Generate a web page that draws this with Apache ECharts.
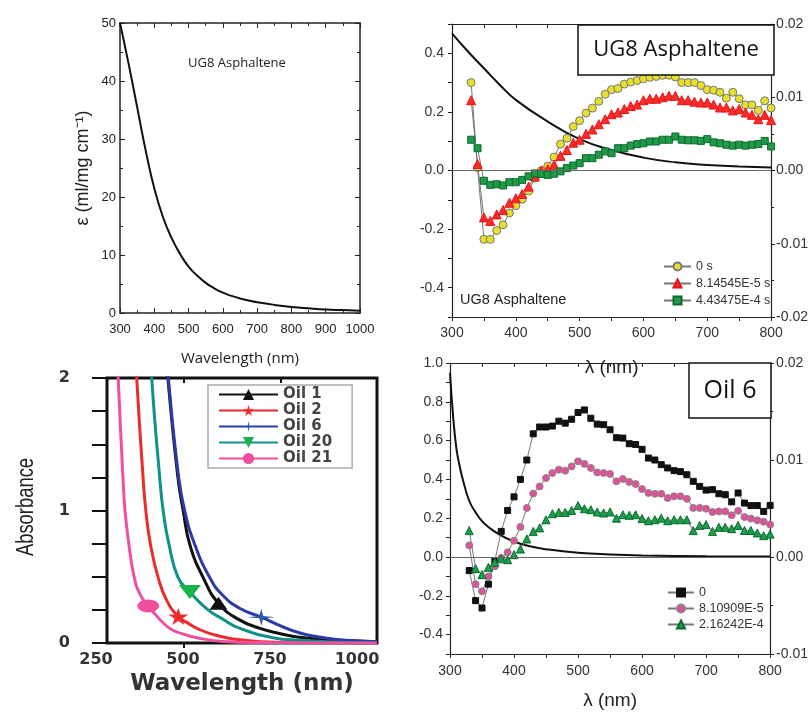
<!DOCTYPE html>
<html>
<head>
<meta charset="utf-8">
<script src="https://cdn.jsdelivr.net/npm/echarts@6/dist/echarts.min.js"></script>
<style>
  html, body { margin: 0; padding: 0; background: #fff; }
  #chart { width: 811px; height: 713px; }
</style>
</head>
<body>
<div id="chart"></div>
<script>
// top left: extinction coefficient of UG8 asphaltene
var epsWl = [300, 325, 350, 375, 400, 425, 450, 475, 500, 525, 550, 575, 600, 625, 650, 675, 700, 750, 800, 850, 900, 950, 1000];
var epsVal = [50, 43.0, 35.5, 28.0, 21.5, 16.6, 13.0, 10.2, 8.0, 6.45, 5.2, 4.25, 3.5, 2.95, 2.5, 2.15, 1.85, 1.4, 1.05, 0.8, 0.6, 0.5, 0.4];

// transient spectra wavelengths (both right panels)
var lambda = [330, 340, 350, 360, 370, 380, 390, 400, 410, 420, 430, 440, 450, 460, 470, 480, 490, 500,
  510, 520, 530, 540, 550, 560, 570, 580, 590, 600, 610, 620, 630, 640, 650, 660, 670, 680, 690, 700,
  710, 720, 730, 740, 750, 760, 770, 780, 790, 800];

// top right: UG8 asphaltene
var ugT0 = [0.30, 0.01, -0.235, -0.235, -0.205, -0.185, -0.145, -0.12, -0.098, -0.07, -0.026, 0.0,
  0.015, 0.046, 0.09, 0.11, 0.15, 0.17, 0.196, 0.213, 0.236, 0.26, 0.276, 0.28, 0.295, 0.302, 0.307, 0.313,
  0.318, 0.321, 0.325, 0.325, 0.319, 0.30, 0.30, 0.30, 0.29, 0.276, 0.274, 0.267, 0.247, 0.267, 0.245,
  0.224, 0.224, 0.205, 0.238, 0.213];
var ugT1 = [0.24, 0.022, -0.16, -0.172, -0.15, -0.135, -0.11, -0.095, -0.08, -0.055, -0.02, 0.0,
  0.005, 0.02, 0.05, 0.07, 0.095, 0.105, 0.125, 0.14, 0.158, 0.175, 0.192, 0.198, 0.21, 0.22, 0.225, 0.24,
  0.245, 0.245, 0.25, 0.255, 0.255, 0.24, 0.24, 0.235, 0.232, 0.232, 0.225, 0.215, 0.215, 0.205, 0.21,
  0.198, 0.19, 0.175, 0.19, 0.172];
var ugT2 = [0.105, 0.076, -0.035, -0.049, -0.047, -0.051, -0.04, -0.04, -0.032, -0.02, -0.01, -0.012,
  -0.015, -0.011, -0.003, 0.008, 0.017, 0.025, 0.042, 0.042, 0.054, 0.065, 0.059, 0.076, 0.076, 0.085,
  0.09, 0.093, 0.099, 0.099, 0.105, 0.105, 0.116, 0.105, 0.103, 0.103, 0.101, 0.107, 0.096, 0.093, 0.088,
  0.085, 0.088, 0.085, 0.088, 0.09, 0.101, 0.082];
var ugAbsWl = [300, 325, 350, 375, 400, 450, 500, 550, 600, 650, 700, 750, 800];
var ugAbs = [0.468, 0.406, 0.349, 0.292, 0.241, 0.167, 0.107, 0.07, 0.044, 0.028, 0.019, 0.014, 0.010];

// bottom right: Oil 6
var oilT0 = [-0.07, -0.225, -0.263, -0.14, -0.02, 0.132, 0.24, 0.31, 0.40, 0.50, 0.635, 0.67,
  0.67, 0.675, 0.70, 0.69, 0.71, 0.745, 0.758, 0.715, 0.685, 0.682, 0.656, 0.615, 0.613, 0.584, 0.58,
  0.555, 0.51, 0.50, 0.476, 0.459, 0.445, 0.44, 0.424, 0.39, 0.364, 0.345, 0.347, 0.326, 0.321, 0.284,
  0.33, 0.278, 0.265, 0.265, 0.235, 0.266];
var oilT1 = [0.06, -0.14, -0.177, -0.10, -0.048, -0.005, 0.024, 0.084, 0.155, 0.253, 0.327, 0.364,
  0.407, 0.433, 0.45, 0.445, 0.467, 0.493, 0.48, 0.459, 0.436, 0.433, 0.428, 0.39, 0.402, 0.387, 0.376,
  0.35, 0.33, 0.326, 0.326, 0.304, 0.313, 0.313, 0.30, 0.253, 0.253, 0.249, 0.232, 0.235, 0.235, 0.215,
  0.238, 0.206, 0.198, 0.189, 0.182, 0.167];
var oilT2 = [0.136, -0.06, -0.091, -0.053, -0.027, -0.009, -0.014, 0.012, 0.041, 0.093, 0.132, 0.15,
  0.192, 0.223, 0.23, 0.23, 0.24, 0.265, 0.249, 0.244, 0.232, 0.227, 0.232, 0.2, 0.218, 0.215, 0.218,
  0.198, 0.187, 0.192, 0.2, 0.187, 0.192, 0.192, 0.192, 0.136, 0.163, 0.167, 0.132, 0.153, 0.153, 0.146,
  0.163, 0.137, 0.137, 0.124, 0.11, 0.118];
var oilAbsWl = [300, 305, 310, 315, 320, 330, 340, 350, 360, 375, 400, 425, 450, 500, 550, 600, 700, 800];
var oilAbs = [0.95, 0.72, 0.56, 0.47, 0.40, 0.29, 0.23, 0.185, 0.155, 0.12, 0.08, 0.055, 0.04, 0.022, 0.013, 0.008, 0.004, 0.002];

// bottom left: crude oil absorbance
var oil1Wl = [446, 458, 483, 498, 515, 550, 589, 640, 697, 750, 793, 850, 900, 1000];
var oil1Abs = [2.5, 2.0, 1.27, 0.99, 0.74, 0.49, 0.30, 0.18, 0.11, 0.07, 0.045, 0.03, 0.02, 0.01];
var oil2Wl = [365, 377, 393, 401, 413, 433, 455, 485, 510, 541, 580, 627, 700, 800, 1000];
var oil2Abs = [2.65, 2.0, 1.27, 0.99, 0.74, 0.49, 0.32, 0.2, 0.15, 0.1, 0.06, 0.03, 0.01, 0.003, 0.0];
var oil6Wl = [445, 459, 485, 502, 528, 567, 600, 645, 700, 750, 800, 850, 900, 1000];
var oil6Abs = [2.5, 2.0, 1.27, 0.99, 0.74, 0.49, 0.36, 0.26, 0.195, 0.13, 0.075, 0.045, 0.025, 0.01];
var oil20Wl = [402, 416, 436, 446, 461, 485, 515, 558, 600, 645, 730, 800, 900, 1000];
var oil20Abs = [2.8, 2.0, 1.27, 0.99, 0.74, 0.49, 0.385, 0.26, 0.18, 0.11, 0.04, 0.02, 0.005, 0.0];
var oil21Wl = [318, 329, 341, 347, 357, 371, 387, 407, 430, 463, 500, 533, 600, 700, 850, 1000];
var oil21Abs = [2.7, 2.0, 1.27, 0.99, 0.74, 0.49, 0.36, 0.28, 0.2, 0.11, 0.065, 0.04, 0.012, 0.003, 0.0, 0.0];
var oilNames = ['Oil 1', 'Oil 2', 'Oil 6', 'Oil 20', 'Oil 21'];
var oilMarkWl = [589, 485, 700, 515, 407];

var starPath = 'path://M50,0 L61,35 L98,35 L68,57 L79,91 L50,70 L21,91 L32,57 L2,35 L39,35 Z';
var sparkPath = 'path://M50,0 L57,43 L100,50 L57,57 L50,100 L43,57 L0,50 L43,43 Z';

function pairs(xs, ys) {
  return xs.map(function (x, i) { return [x, ys[i]]; });
}
function evenTenth(v) {
  var n = Math.round(v * 10);
  return n % 2 === 0 ? (n / 10).toFixed(1) : '';
}
function hundreds(v) {
  return Math.round(v) % 100 === 0 ? String(Math.round(v)) : '';
}
function plain(v) {
  return String(Math.round(v));
}

var font = 'Liberation Sans';
var ink = '#222';
var lbl = { color: '#333', fontFamily: font, fontSize: 14 };
var noSplit = { show: false };
function axLine(w) {
  return { show: true, onZero: false, lineStyle: { color: ink, width: w || 1.2 } };
}
function ticks(inside, len) {
  return { show: true, inside: inside, length: len, lineStyle: { color: ink, width: 1 } };
}
function minor(len) {
  return { show: true, splitNumber: 2, length: len, lineStyle: { color: ink, width: 1 } };
}

// line + marker series for the transient panels
function spectrum(name, vals, symbol, size, fill, border, yIdx) {
  return {
    name: name, type: 'line', xAxisIndex: yIdx === 2 ? 2 : 7, yAxisIndex: yIdx,
    data: pairs(lambda, vals), symbol: symbol, symbolSize: size, showAllSymbol: true,
    lineStyle: { color: '#777', width: 1 },
    itemStyle: { color: fill, borderColor: border, borderWidth: 1 },
    emphasis: { disabled: true }, z: 3
  };
}
function oilCurve(i, wl, abs, color, markColor, symbol, size, rotate) {
  var mark = oilMarkWl[i];
  return {
    name: oilNames[i], type: 'line', xAxisIndex: 4, yAxisIndex: 4,
    data: pairs(wl, abs), smooth: 0.5,
    symbol: symbol, symbolRotate: rotate || 0, showAllSymbol: true,
    symbolSize: function (v) { return v[0] === mark ? size : 0; },
    lineStyle: { color: color, width: 3 },
    itemStyle: { color: markColor },
    emphasis: { disabled: true }
  };
}

var chart = echarts.init(document.getElementById('chart'), null, { renderer: 'canvas' });

var option = {
  animation: false,
  backgroundColor: '#fff',
  grid: [
    { left: 120, right: 451, top: 23, bottom: 400 },
    { left: 452, right: 38, top: 24, bottom: 396 },
    { left: 107, right: 434, top: 378, bottom: 70, show: true, borderColor: '#111', borderWidth: 3 },
    { left: 96, right: 454, top: 378, bottom: 70 },
    { left: 450, right: 40, top: 363, bottom: 59 }
  ],
  xAxis: [
    { gridIndex: 0, type: 'value', min: 300, max: 1000, interval: 100,
      axisLine: axLine(1.5), axisTick: ticks(true, 5), minorTick: minor(3), splitLine: noSplit,
      axisLabel: { margin: 10, color: ink, fontFamily: font, fontSize: 13, formatter: plain },
      name: 'Wavelength (nm)', nameLocation: 'middle', nameGap: 38,
      nameTextStyle: { fontFamily: 'Open Sans', fontSize: 15, color: ink } },
    { gridIndex: 0, type: 'value', position: 'top', min: 300, max: 1000, interval: 100,
      axisLine: axLine(1.5), axisTick: ticks(true, 5), minorTick: minor(3), splitLine: noSplit,
      axisLabel: { show: false } },
    { gridIndex: 1, type: 'value', min: 300, max: 800, interval: 50,
      axisLine: axLine(), axisTick: ticks(false, 4), splitLine: noSplit,
      axisLabel: Object.assign({ margin: 9, formatter: hundreds }, lbl),
      name: 'λ (nm)', nameLocation: 'middle', nameGap: 41,
      nameTextStyle: { fontFamily: font, fontSize: 19, color: ink } },
    { gridIndex: 1, type: 'value', position: 'top', min: 300, max: 800, interval: 50,
      axisLine: axLine(), axisTick: ticks(true, 4), splitLine: noSplit, axisLabel: { show: false } },
    { gridIndex: 2, type: 'value', min: 300, max: 1000,
      axisLine: { show: false, onZero: false },
      axisTick: { show: true, customValues: [500], length: 5, lineStyle: { color: '#111', width: 2 } },
      splitLine: noSplit, axisLabel: { show: false },
      name: 'Wavelength (nm)', nameLocation: 'middle', nameGap: 30,
      nameTextStyle: { fontFamily: 'DejaVu Sans', fontWeight: 'bold', fontSize: 23, color: '#333' } },
    { gridIndex: 2, type: 'value', position: 'top', min: 300, max: 1000,
      axisLine: { show: false, onZero: false },
      axisTick: { show: true, inside: true, customValues: [500, 750], length: 5, lineStyle: { color: '#111', width: 2 } },
      splitLine: noSplit, axisLabel: { show: false } },
    { gridIndex: 3, type: 'value', min: 250, max: 1000, interval: 250,
      axisLine: { show: false, onZero: false }, axisTick: { show: false }, splitLine: noSplit,
      axisLabel: { margin: 9, color: '#333', fontFamily: 'DejaVu Sans', fontWeight: 'bold', fontSize: 16, formatter: plain } },
    { gridIndex: 4, type: 'value', min: 300, max: 800, interval: 50,
      axisLine: axLine(), axisTick: ticks(false, 4), splitLine: noSplit,
      axisLabel: Object.assign({ margin: 10, formatter: hundreds }, lbl),
      name: 'λ (nm)', nameLocation: 'middle', nameGap: 37,
      nameTextStyle: { fontFamily: font, fontSize: 19, color: ink } },
    { gridIndex: 4, type: 'value', position: 'top', min: 300, max: 800, interval: 50,
      axisLine: axLine(), axisTick: ticks(true, 4), splitLine: noSplit, axisLabel: { show: false } }
  ],
  yAxis: [
    { gridIndex: 0, type: 'value', min: 0, max: 50, interval: 10,
      axisLine: axLine(1.5), axisTick: ticks(true, 5), minorTick: minor(3), splitLine: noSplit,
      axisLabel: { margin: 4, color: ink, fontFamily: font, fontSize: 13 },
      name: 'ε (ml/mg cm⁻¹)', nameLocation: 'middle', nameGap: 28,
      nameTextStyle: { fontFamily: font, fontSize: 18, color: ink } },
    { gridIndex: 0, type: 'value', position: 'right', min: 0, max: 50, interval: 10,
      axisLine: axLine(1.5), axisTick: ticks(true, 5), minorTick: minor(3), splitLine: noSplit,
      axisLabel: { show: false } },
    { gridIndex: 1, type: 'value', min: -0.5, max: 0.5, interval: 0.1,
      axisLine: axLine(), axisTick: ticks(false, 4), splitLine: noSplit,
      axisLabel: Object.assign({ margin: 8, formatter: evenTenth }, lbl) },
    { gridIndex: 1, type: 'value', position: 'right', min: -0.02, max: 0.02, interval: 0.01,
      axisLine: axLine(), axisTick: ticks(false, 4), minorTick: minor(3), splitLine: noSplit,
      axisLabel: Object.assign({ margin: 5, formatter: function (v) { return v.toFixed(2); } }, lbl) },
    { gridIndex: 2, type: 'value', min: 0, max: 2, interval: 0.25,
      axisLine: { show: false, onZero: false },
      axisTick: { show: true, length: 15, lineStyle: { color: '#111', width: 2 } },
      splitLine: noSplit,
      axisLabel: { margin: 37, color: '#333', fontFamily: 'DejaVu Sans', fontWeight: 'bold', fontSize: 16,
        formatter: function (v) { return Math.abs(v - Math.round(v)) < 1e-6 ? String(Math.round(v)) : ''; } } },
    { gridIndex: 3, type: 'value', show: false, min: 0, max: 1 },
    { gridIndex: 4, type: 'value', min: -0.5, max: 1.0, interval: 0.1,
      axisLine: axLine(), axisTick: ticks(false, 4), splitLine: noSplit,
      axisLabel: Object.assign({ margin: 7, formatter: evenTenth }, lbl) },
    { gridIndex: 4, type: 'value', position: 'right', min: -0.01, max: 0.02, interval: 0.01,
      axisLine: axLine(), axisTick: ticks(false, 4), minorTick: minor(3), splitLine: noSplit,
      axisLabel: Object.assign({ margin: 6, formatter: function (v) { return v.toFixed(2); } }, lbl) }
  ],
  legend: [
    { data: ['0 s', '8.14545E-5 s', '4.43475E-4 s'], orient: 'vertical', left: 663, top: 260,
      itemWidth: 27, itemHeight: 10, itemGap: 4, padding: 0, selectedMode: false,
      textStyle: { fontFamily: font, fontSize: 12.5, color: '#333' } },
    { data: oilNames, orient: 'vertical', left: 208, top: 385,
      itemWidth: 59, itemHeight: 14, itemGap: 1, padding: [2, 20, 2, 10], selectedMode: false,
      borderColor: '#aaa', borderWidth: 1.5, backgroundColor: '#fff',
      textStyle: { fontFamily: 'DejaVu Sans', fontWeight: 'bold', fontSize: 15, color: '#444', lineHeight: 14 } },
    { data: ['0', '8.10909E-5', '2.16242E-4'], orient: 'vertical', left: 667, top: 586,
      itemWidth: 26, itemHeight: 10, itemGap: 3, padding: 0, selectedMode: false,
      textStyle: { fontFamily: font, fontSize: 12.5, color: '#333' } }
  ],
  graphic: [
    { type: 'text', x: 237, y: 63, z: 50,
      style: { text: 'UG8 Asphaltene', fill: ink, fontFamily: 'Open Sans', fontSize: 13, align: 'center', verticalAlign: 'middle' } },
    { type: 'text', x: 460, y: 300, z: 50,
      style: { text: 'UG8 Asphaltene', fill: ink, fontFamily: font, fontSize: 14.5, align: 'left', verticalAlign: 'middle' } },
    { type: 'rect', z: 50, shape: { x: 578, y: 25, width: 196, height: 50 },
      style: { fill: '#fff', stroke: '#111', lineWidth: 1.5 } },
    { type: 'text', x: 676, y: 50, z: 51,
      style: { text: 'UG8 Asphaltene', fill: '#111', fontFamily: 'Open Sans', fontSize: 22, align: 'center', verticalAlign: 'middle' } },
    { type: 'rect', z: 50, shape: { x: 689, y: 363, width: 82, height: 55 },
      style: { fill: '#fff', stroke: '#111', lineWidth: 1.5 } },
    { type: 'text', x: 730, y: 391, z: 51,
      style: { text: 'Oil 6', fill: '#111', fontFamily: 'Open Sans', fontSize: 25, align: 'center', verticalAlign: 'middle' } },
    { type: 'text', x: 27, y: 507, z: 50, rotation: Math.PI / 2, scaleX: 0.8,
      style: { text: 'Absorbance', fill: '#222', fontFamily: font, fontSize: 23, align: 'center', verticalAlign: 'middle' } }
  ],
  series: [
    { name: 'eps', type: 'line', xAxisIndex: 0, yAxisIndex: 0, data: pairs(epsWl, epsVal),
      smooth: 0.5, symbol: 'none', lineStyle: { color: '#111', width: 2 } },

    { name: 'absUG8', type: 'line', xAxisIndex: 2, yAxisIndex: 2, data: pairs(ugAbsWl, ugAbs),
      smooth: 0.5, symbol: 'none', lineStyle: { color: '#111', width: 2 },
      markLine: { silent: true, symbol: 'none', label: { show: false },
        lineStyle: { color: '#666', type: 'solid', width: 1 }, data: [{ yAxis: 0 }] } },
    spectrum('0 s', ugT0, 'circle', 8, '#e6e02c', '#777', 2),
    spectrum('8.14545E-5 s', ugT1, 'triangle', 9, '#ff2a2a', '#e51616', 2),
    spectrum('4.43475E-4 s', ugT2, 'rect', 7, '#1e9a48', '#0d6a2d', 2),

    oilCurve(0, oil1Wl, oil1Abs, '#111', '#111', 'triangle', [18, 13]),
    oilCurve(1, oil2Wl, oil2Abs, '#ee2b2b', '#ee2b2b', starPath, [20, 17]),
    oilCurve(2, oil6Wl, oil6Abs, '#2a3aa6', '#2b5aa8', sparkPath, [28, 17]),
    oilCurve(3, oil20Wl, oil20Abs, '#0e9188', '#19b24b', 'triangle', [22, 14], 180),
    oilCurve(4, oil21Wl, oil21Abs, '#ef4f9e', '#ef4f9e', 'circle', [22, 13]),

    { name: 'absOil6', type: 'line', xAxisIndex: 7, yAxisIndex: 6, data: pairs(oilAbsWl, oilAbs),
      smooth: 0.5, symbol: 'none', lineStyle: { color: '#111', width: 2 },
      markLine: { silent: true, symbol: 'none', label: { show: false },
        lineStyle: { color: '#666', type: 'solid', width: 1 }, data: [{ yAxis: 0 }] } },
    spectrum('0', oilT0, 'rect', 6, '#111', '#111', 6),
    spectrum('8.10909E-5', oilT1, 'circle', 7, '#e0509b', '#888', 6),
    spectrum('2.16242E-4', oilT2, 'triangle', 8, '#1aa04a', '#0a6a30', 6)
  ]
};

chart.setOption(option);
</script>
</body>
</html>
